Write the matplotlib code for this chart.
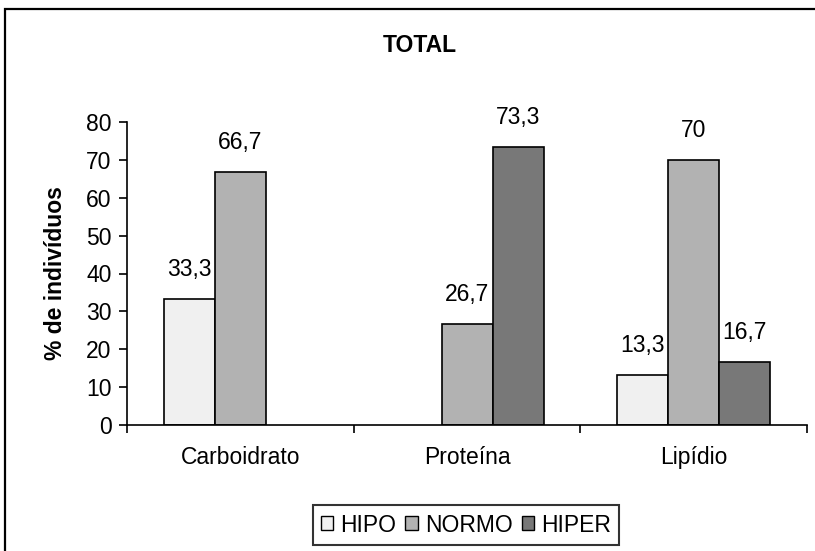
#!/usr/bin/env python3

import numpy as np
import matplotlib
matplotlib.use('Agg')
import matplotlib.pyplot as plt
from matplotlib.patches import Rectangle

categories = ['Carboidrato', 'Proteína', 'Lipídio']
series = ['HIPO', 'NORMO', 'HIPER']
hipo = [33.3, 0, 13.3]
normo = [66.7, 26.7, 70]
hiper = [0, 73.3, 16.7]
labels_hipo = ['33,3', '', '13,3']
labels_normo = ['66,7', '26,7', '70']
labels_hiper = ['', '73,3', '16,7']
colors = ['#f0f0f0', '#b2b2b2', '#787878']
yticks = [0, 10, 20, 30, 40, 50, 60, 70, 80]

plt.rcParams['font.family'] = ['Liberation Sans', 'DejaVu Sans']
fs = 16.5

fig = plt.figure(figsize=(8.15, 5.51), dpi=100)
ax = fig.add_axes([127 / 815, 1 - 425 / 551, 680 / 815, 303 / 551])

# frame around the whole chart (cut at right and bottom)
fig.patches.append(Rectangle((5 / 815, -0.2), 1.2, 1 - 9 / 551 + 0.2,
                             transform=fig.transFigure, fill=False,
                             edgecolor='black', linewidth=1.6))

x = np.arange(len(categories))
w = 0.225
for k, (vals, labs) in enumerate(zip([hipo, normo, hiper],
                                     [labels_hipo, labels_normo, labels_hiper])):
    pos = x + (k - 1) * w
    for p, v, lab in zip(pos, vals, labs):
        if v == 0:
            continue
        ax.bar(p, v, width=w, color=colors[k], edgecolor='black', linewidth=1.2)
        ax.annotate(lab, (p, v), xytext=(0, 13), textcoords='offset points',
                    ha='center', va='bottom', fontsize=fs)

# legend handles
handles = [Rectangle((0, 0), 1, 1, facecolor=c, edgecolor='black', linewidth=1)
           for c in colors]
leg = fig.legend(handles, series, loc='center', bbox_to_anchor=(466 / 815, 1 - 525 / 551),
                 ncol=3, frameon=True, fancybox=False, fontsize=fs,
                 handlelength=0.55, handleheight=0.55, handletextpad=0.3,
                 columnspacing=0.4, borderpad=0.35)
leg.get_frame().set_edgecolor('black')
leg.get_frame().set_linewidth(1.5)

ax.set_xlim(-0.5, 2.5)
ax.set_ylim(0, 80)
ax.set_yticks(yticks)
ax.set_xticks([-0.5, 0.5, 1.5, 2.5])
ax.set_xticklabels([])
ax.set_xticks(x, minor=True)
ax.set_xticklabels(categories, minor=True, fontsize=fs)
ax.tick_params(axis='x', which='minor', length=0, pad=15)
ax.tick_params(axis='x', which='major', direction='out', length=6, width=1.2)
ax.tick_params(axis='y', direction='out', length=6, width=1.2, labelsize=fs, pad=5)
for s in ['top', 'right']:
    ax.spines[s].set_visible(False)
for s in ['left', 'bottom']:
    ax.spines[s].set_linewidth(1.2)

ax.set_ylabel('% de indivíduos', fontsize=fs, fontweight='bold', labelpad=14)
fig.text(420 / 815, 1 - 45 / 551, 'TOTAL', ha='center', va='center',
         fontsize=fs, fontweight='bold')

plt.savefig('out.png', dpi=100)
